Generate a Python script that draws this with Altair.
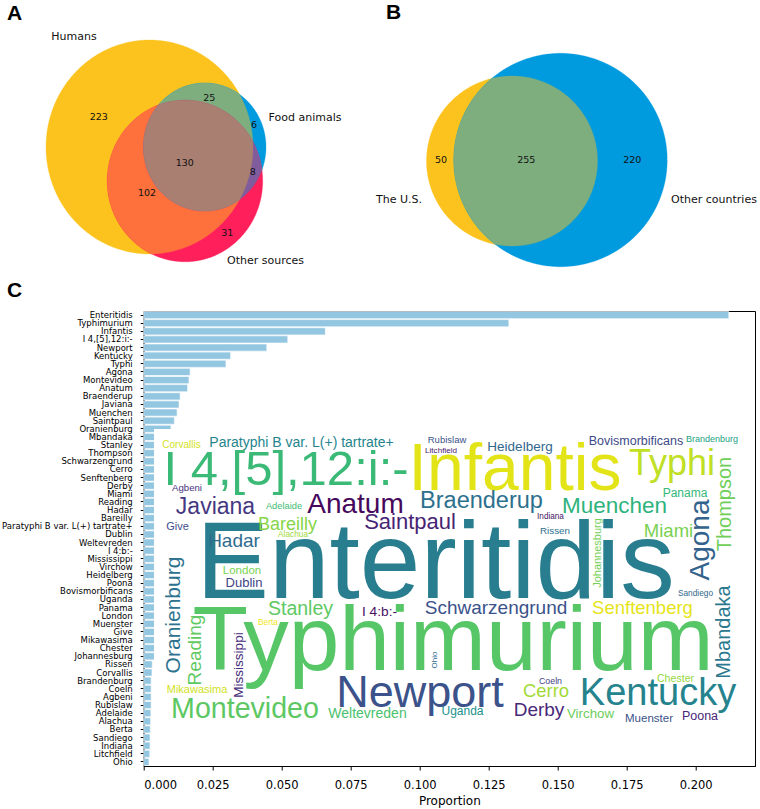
import numpy as np
import pandas as pd
import altair as alt

# ---------------- data ----------------
serotypes = [
    "Enteritidis", "Typhimurium", "Infantis", "I 4,[5],12:i:-", "Newport", "Kentucky",
    "Typhi", "Agona", "Montevideo", "Anatum", "Braenderup", "Javiana", "Muenchen",
    "Saintpaul", "Oranienburg", "Mbandaka", "Stanley", "Thompson", "Schwarzengrund",
    "Cerro", "Senftenberg", "Derby", "Miami", "Reading", "Hadar", "Bareilly",
    "Paratyphi B var. L(+) tartrate+", "Dublin", "Weltevreden", "I 4:b:-", "Mississippi",
    "Virchow", "Heidelberg", "Poona", "Bovismorbificans", "Uganda", "Panama", "London",
    "Muenster", "Give", "Mikawasima", "Chester", "Johannesburg", "Rissen", "Corvallis",
    "Brandenburg", "Coeln", "Agbeni", "Rubislaw", "Adelaide", "Alachua", "Berta",
    "Sandiego", "Indiana", "Litchfield", "Ohio",
]
proportions = [
    0.2120, 0.1323, 0.0658, 0.0522, 0.0446, 0.0315,
    0.0298, 0.0168, 0.0164, 0.0159, 0.0132, 0.0128, 0.0121,
    0.0111, 0.0099, 0.0093, 0.0088, 0.0086, 0.0082,
    0.0079, 0.0077, 0.0074, 0.0071, 0.0069, 0.0066, 0.0063,
    0.0061, 0.0058, 0.0056, 0.0054, 0.0052,
    0.0051, 0.0049, 0.0048, 0.0047, 0.0046, 0.0045, 0.0044,
    0.0043, 0.0042, 0.0041, 0.0040, 0.0039, 0.0031, 0.0030,
    0.0027, 0.0027, 0.0027, 0.0027, 0.0026, 0.0025, 0.0024,
    0.0023, 0.0023, 0.0022, 0.0019,
]
x_ticks = [0.0, 0.025, 0.05, 0.075, 0.1, 0.125, 0.15, 0.175, 0.2]

venn_a_sets = ["Humans", "Food animals", "Other sources"]
venn_a_regions = ["100", "110", "010", "111", "011", "101", "001"]
venn_a_counts = [223, 25, 6, 130, 8, 102, 31]

venn_b_sets = ["The U.S.", "Other countries"]
venn_b_regions = ["10", "11", "01"]
venn_b_counts = [50, 255, 220]

# ---------------- layout (page pixels) ----------------
OX, OY = 143.7, 311.0          # top-left corner of the bar plot area
PLOT_W, PLOT_H = 611.3, 455.0

YELLOW, BLUE, RED = (252, 195, 30), (0, 154, 222), (255, 31, 91)

# circle geometry of the two Venn diagrams: (cx, cy, rx, ry)
venn_a_geom = [(149.5, 147.0, 103.5, 107.0), (204.7, 147.0, 61.3, 64.0), (185.0, 181.0, 77.7, 80.8)]
venn_b_geom = [(512.0, 161.0, 85.5, 85.0), (560.5, 160.0, 106.7, 106.7)]

venn_a_count_pos = {"100": (98.7, 116.7), "110": (209.3, 97.7), "010": (254, 125.3),
                    "111": (184.7, 163), "011": (252.7, 172.3), "101": (147, 192.7),
                    "001": (227.3, 233.3)}
venn_a_label_pos = [(74, 36.5), (305, 118), (265.5, 261)]
venn_b_count_pos = {"10": (441, 160), "11": (526.3, 160), "01": (632.3, 160)}
venn_b_label_pos = [(399, 200), (714, 200)]

panel_letters = [("A", 7, 19.5), ("B", 386, 18.5), ("C", 7, 296.5)]

# word cloud placement: word, x, y, font size, angle, colour
# (horizontal words: x = centre, y = baseline; rotated words: x = baseline, y = centre)
cloud_layout = [
    ("Enteritidis", 435.5, 598, 109, 0, "#287D8E"),
    ("Typhimurium", 453, 670, 91, 0, "#56C667"),
    ("Infantis", 515, 490, 66, 0, "#E2E418"),
    ("I 4,[5],12:i:-", 286, 485, 49, 0, "#3ABA76"),
    ("Newport", 420, 707, 45, 0, "#3B528B"),
    ("Kentucky", 658, 705, 38, 0, "#25838E"),
    ("Typhi", 672, 475, 36, 0, "#C0DF25"),
    ("Montevideo", 245, 718, 28.6, 0, "#5DC863"),
    ("Anatum", 355.5, 513, 28, 0, "#46085C"),
    ("Braenderup", 481.5, 508, 23.5, 0, "#2D708E"),
    ("Javiana", 215.5, 514, 23, 0, "#453781"),
    ("Muenchen", 614.5, 513, 22.5, 0, "#2EB37C"),
    ("Saintpaul", 410, 529, 22, 0, "#482475"),
    ("Stanley", 300.5, 615, 19.5, 0, "#5EC962"),
    ("Schwarzengrund", 496, 614, 19, 0, "#3B528B"),
    ("Cerro", 546, 697, 18.4, 0, "#A2DA37"),
    ("Senftenberg", 642.5, 614, 18.5, 0, "#E5E419"),
    ("Derby", 539, 716, 19, 0, "#482878"),
    ("Miami", 668.5, 537, 18.5, 0, "#7AD151"),
    ("Hadar", 234, 547, 19, 0, "#2F6C8E"),
    ("Bareilly", 287.5, 530, 18, 0, "#86D549"),
    ("Paratyphi B var. L(+) tartrate+", 301.5, 447, 14, 0, "#25858E"),
    ("Dublin", 244, 586.5, 13, 0, "#414487"),
    ("Weltevreden", 367.5, 718, 14, 0, "#4AC16D"),
    ("I 4:b:-", 379.5, 616, 13.7, 0, "#471164"),
    ("Virchow", 590.5, 718, 13.3, 0, "#6CCD5A"),
    ("Heidelberg", 520, 451, 13.5, 0, "#31688E"),
    ("Poona", 700, 720, 12.5, 0, "#482576"),
    ("Bovismorbificans", 636, 445, 12.5, 0, "#3E4A89"),
    ("Uganda", 462.5, 715, 12, 0, "#21918C"),
    ("Panama", 685, 497, 12, 0, "#35B779"),
    ("London", 242, 574, 11.5, 0, "#7AD151"),
    ("Muenster", 649, 722, 11.5, 0, "#3B528B"),
    ("Give", 177.5, 530, 11, 0, "#3E4C8A"),
    ("Mikawasima", 197, 693, 11, 0, "#D0E11C"),
    ("Chester", 675.5, 682, 10.6, 0, "#95D840"),
    ("Rissen", 555, 534, 9.8, 0, "#2D708E"),
    ("Corvallis", 181.5, 448, 10, 0, "#D2E21B"),
    ("Brandenburg", 712, 442, 9, 0, "#23A083"),
    ("Coeln", 550.5, 684, 8.8, 0, "#433E85"),
    ("Agbeni", 187, 491, 9.6, 0, "#46327E"),
    ("Rubislaw", 447, 443, 9.5, 0, "#3B528B"),
    ("Adelaide", 284, 509, 9.3, 0, "#3FBC73"),
    ("Alachua", 293, 537, 8.3, 0, "#9FDA3A"),
    ("Berta", 268, 625, 8.4, 0, "#F1E51D"),
    ("Sandiego", 695.5, 596, 8.3, 0, "#31688E"),
    ("Indiana", 550.5, 519, 8.2, 0, "#471365"),
    ("Litchfield", 441, 453, 8.1, 0, "#481A6C"),
    ("Agona", 709, 540, 28, 270, "#33638D"),
    ("Oranienburg", 180, 615, 21, 270, "#2C728E"),
    ("Mbandaka", 730, 632, 20, 270, "#2A788E"),
    ("Thompson", 731, 504, 20, 270, "#6ECE58"),
    ("Reading", 201, 650, 19, 270, "#5EC962"),
    ("Mississippi", 243, 665, 13.5, 270, "#472D7B"),
    ("Johannesburg", 601, 553, 11, 270, "#73D056"),
    ("Ohio", 437, 660, 8, 270, "#2E6E8E"),
]
CLOUD_BOX = (154, 429, 754.5, 765.5)   # white backdrop of the word cloud


# ---------------- helpers ----------------
def hexcol(rgb):
    return "#%02X%02X%02X" % tuple(int(round(v)) for v in rgb)


def mix(*cols):
    return hexcol(np.mean(np.array(cols, float), axis=0))


def ellipse_pts(cx, cy, rx, ry, n=720):
    t = np.linspace(0, 2 * np.pi, n, endpoint=False)
    return np.c_[cx + rx * np.cos(t), cy + ry * np.sin(t)]


def inside(p, e):
    cx, cy, rx, ry = e
    return ((p[:, 0] - cx) / rx) ** 2 + ((p[:, 1] - cy) / ry) ** 2 <= 1 + 1e-9


def intersection(ells):
    """Boundary of the (convex) intersection of several ellipses."""
    pts = []
    for i, e in enumerate(ells):
        p = ellipse_pts(*e)
        m = np.ones(len(p), bool)
        for j, f in enumerate(ells):
            if j != i:
                m &= inside(p, f)
        pts.append(p[m])
    pts = np.vstack(pts)
    c = pts.mean(axis=0)
    return pts[np.argsort(np.arctan2(pts[:, 1] - c[1], pts[:, 0] - c[0]))]


def patch(pts, color):
    df = pd.DataFrame({"x": pts[:, 0] - OX, "y": pts[:, 1] - OY, "i": np.arange(len(pts))})
    return alt.Chart(df).mark_line(fill=color, stroke=color, strokeWidth=0.3, interpolate="linear").encode(
        x=alt.X("x:Q", scale=None), y=alt.Y("y:Q", scale=None), order=alt.Order("i:Q"))


def texts(df, font, weight="normal", align="center", baseline="middle"):
    return alt.Chart(df).mark_text(font=font, fontWeight=weight, align=align, baseline=baseline).encode(
        x=alt.X("x:Q", scale=None), y=alt.Y("y:Q", scale=None), text="t:N",
        size=alt.Size("fs:Q", scale=None), color=alt.Color("c:N", scale=None),
        angle=alt.Angle("a:Q", scale=None))


def text_df(items):
    rows = [{"t": t, "x": x - OX, "y": y - OY, "fs": fs, "c": c, "a": a} for t, x, y, fs, c, a in items]
    return pd.DataFrame(rows)


# ---------------- Venn diagrams ----------------
ya, ba, ra = venn_a_geom
yb, bb = venn_b_geom
venn_layers = [
    patch(ellipse_pts(*ya), hexcol(YELLOW)),
    patch(ellipse_pts(*ba), hexcol(BLUE)),
    patch(ellipse_pts(*ra), hexcol(RED)),
    patch(intersection([ya, ba]), mix(YELLOW, BLUE)),
    patch(intersection([ya, ra]), mix(YELLOW, RED)),
    patch(intersection([ba, ra]), mix(BLUE, RED)),
    patch(intersection([ya, ba, ra]), mix(YELLOW, BLUE, RED)),
    patch(ellipse_pts(*yb), hexcol(YELLOW)),
    patch(ellipse_pts(*bb), hexcol(BLUE)),
    patch(intersection([yb, bb]), mix(YELLOW, BLUE)),
]

venn_text_items = []
for reg, n in zip(venn_a_regions, venn_a_counts):
    x, y = venn_a_count_pos[reg]
    venn_text_items.append((str(n), x, y, 9.5, "#111111", 0))
for name, (x, y) in zip(venn_a_sets, venn_a_label_pos):
    venn_text_items.append((name, x, y, 11, "#111111", 0))
for reg, n in zip(venn_b_regions, venn_b_counts):
    x, y = venn_b_count_pos[reg]
    venn_text_items.append((str(n), x, y, 9.5, "#111111", 0))
for name, (x, y) in zip(venn_b_sets, venn_b_label_pos):
    venn_text_items.append((name, x, y, 11, "#111111", 0))
venn_text = texts(text_df(venn_text_items), "DejaVu Sans")

letters = texts(text_df([(t, x, y, 21, "#000000", 0) for t, x, y in panel_letters]),
                "Liberation Sans", weight="bold", align="left", baseline="alphabetic")

# ---------------- bar chart ----------------
bar_df = pd.DataFrame({"serotype": serotypes, "proportion": proportions})
bars = alt.Chart(bar_df).mark_bar(color="#93C6E0", stroke="white", strokeWidth=0.6).encode(
    x=alt.X("proportion:Q",
            scale=alt.Scale(domain=[0, PLOT_W / 2760.0], nice=False, zero=True),
            axis=alt.Axis(title="Proportion", values=x_ticks, format=".3f", grid=False,
                          labelFont="DejaVu Sans", labelFontSize=11.5, labelColor="#000",
                          titleFont="DejaVu Sans", titleFontSize=12, titleFontWeight="normal",
                          titleColor="#000", titlePadding=5, labelPadding=9,
                          tickSize=4, tickColor="#000", tickWidth=1,
                          domainColor="#000", domainWidth=1)),
    y=alt.Y("serotype:N", sort=serotypes,
            scale=alt.Scale(paddingInner=0.12, paddingOuter=0.06),
            axis=alt.Axis(title=None, labelFont="DejaVu Sans", labelFontSize=8.5, labelColor="#000",
                          labelPadding=8, labelLimit=300, tickSize=3.5, tickColor="#000",
                          tickWidth=1, domainColor="#000", domainWidth=1)),
)

# white backdrop of the word cloud, then the words
x0, y0, x1, y1 = CLOUD_BOX
backdrop = alt.Chart(pd.DataFrame({"x": [x0 - OX], "x2": [x1 - OX], "y": [y0 - OY], "y2": [y1 - OY]})).mark_rect(
    color="white").encode(x=alt.X("x:Q", scale=None), x2="x2:Q", y=alt.Y("y:Q", scale=None), y2="y2:Q")

cloud_h = text_df([(w, x, y, fs, c, a) for w, x, y, fs, a, c in cloud_layout if a == 0])
cloud_v = text_df([(w, x, y, fs, c, a) for w, x, y, fs, a, c in cloud_layout if a != 0])
words_h = texts(cloud_h, "Liberation Sans", baseline="alphabetic")
words_v = texts(cloud_v, "Liberation Sans", baseline="alphabetic")

chart = alt.layer(bars, backdrop, words_h, words_v, *venn_layers, venn_text, letters).properties(
    width=PLOT_W, height=PLOT_H,
    autosize=alt.AutoSizeParams(type="none"),
    padding={"left": OX, "top": OY, "right": 760 - OX - PLOT_W, "bottom": 809 - OY - PLOT_H},
    background="white",
).configure_view(stroke="#000", strokeWidth=1)

chart.save("out.html", embed_options={"renderer": "svg", "actions": False})
